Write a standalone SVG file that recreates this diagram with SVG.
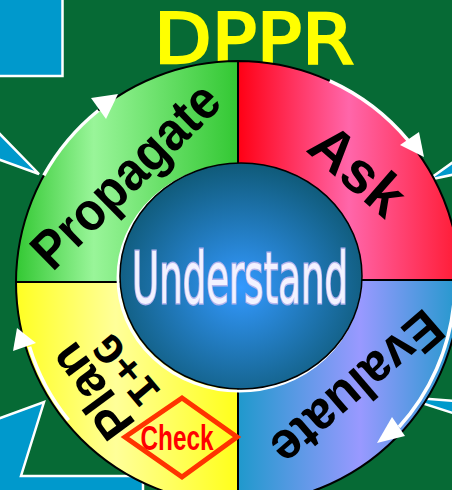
<svg xmlns="http://www.w3.org/2000/svg" width="452" height="490" viewBox="0 0 452 490">
<defs>
<style>
.callout{fill:#0099cc;stroke:#ffffff;stroke-width:2.5;stroke-linejoin:miter}
.quad{stroke:#000;stroke-width:2}
.lbl{font-family:"Liberation Sans",Arial,sans-serif;font-weight:bold;fill:#000;text-anchor:middle}
.arc{fill:none;stroke:#fff;stroke-width:3.5}
.head{fill:#fff}
</style>
<linearGradient id="gG" gradientUnits="userSpaceOnUse" x1="16" y1="0" x2="238" y2="0">
<stop offset="0" stop-color="#33c833"/><stop offset="0.35" stop-color="#99f599"/><stop offset="1" stop-color="#33c833"/>
</linearGradient>
<linearGradient id="gR" gradientUnits="userSpaceOnUse" x1="238" y1="0" x2="460" y2="0">
<stop offset="0" stop-color="#ff0014"/><stop offset="0.5" stop-color="#ff66aa"/><stop offset="1" stop-color="#ff1a33"/>
</linearGradient>
<linearGradient id="gY" gradientUnits="userSpaceOnUse" x1="16" y1="0" x2="238" y2="0">
<stop offset="0" stop-color="#ffff22"/><stop offset="0.45" stop-color="#ffff99"/><stop offset="1" stop-color="#ffff1a"/>
</linearGradient>
<linearGradient id="gB" gradientUnits="userSpaceOnUse" x1="238" y1="0" x2="460" y2="0">
<stop offset="0" stop-color="#1f99cc"/><stop offset="0.55" stop-color="#9999ff"/><stop offset="1" stop-color="#2299cc"/>
</linearGradient>
<radialGradient id="gC" cx="0.5" cy="0.55" r="0.55">
<stop offset="0" stop-color="#3399ff"/><stop offset="1" stop-color="#0f5a78"/>
</radialGradient>
</defs>
<rect x="0" y="0" width="452" height="490" fill="#066a35"/>
<g id="callouts">
<rect class="callout" x="-4" y="-4" width="66.5" height="80"/>
<polygon class="callout" points="-5,129 39,174 -5,158"/>
<polygon class="callout" points="428,180 456,160 456,174"/>
<polygon class="callout" points="403,397 456,401 456,414"/>
<polygon class="callout" points="-5,420 44,402 21,476 143,476 143,496 -5,496"/>
</g>
<g id="title"><text x="254" y="63" font-family="'DejaVu Sans',Verdana,sans-serif" font-size="70" fill="#ffff00" stroke="#ffff00" stroke-width="2.5" text-anchor="middle" textLength="200" lengthAdjust="spacingAndGlyphs">DPPR</text></g>
<g id="propagate">
<path class="quad" fill="url(#gG)" d="M16,282 A222,222 0 0 1 238,61 L238,182 A100,100 0 0 0 138,282 Z"/>
<text class="lbl" font-size="54" transform="translate(125,175) rotate(-44.4)" y="19" textLength="240" lengthAdjust="spacingAndGlyphs">Propagate</text>
</g>
<g id="ask">
<path class="quad" fill="url(#gR)" d="M238,61 A222,222 0 0 1 460,280 L338,280 A100,100 0 0 0 238,182 Z"/>
<text class="lbl" font-size="58" transform="translate(358,170) rotate(41)" y="20">Ask</text>
</g>
<g id="evaluate">
<path class="quad" fill="url(#gB)" d="M460,280 A222,222 0 0 1 238,504 L238,382 A100,100 0 0 0 338,280 Z"/>
<text class="lbl" font-size="53" transform="translate(358,389) rotate(139.3)" y="19" textLength="208" lengthAdjust="spacingAndGlyphs">Evaluate</text>
</g>
<g id="plan">
<path class="quad" fill="url(#gY)" d="M238,504 A222,222 0 0 1 16,282 L138,282 A100,100 0 0 0 238,382 Z"/>
<text class="lbl" font-size="50" transform="translate(91,392) rotate(233.6)" y="18">Plan</text>
<text font-family="'DejaVu Sans Mono',monospace" font-weight="bold" font-size="38" text-anchor="middle" transform="translate(127,370) rotate(230)" y="13" textLength="80" lengthAdjust="spacingAndGlyphs">I+G</text>
</g>
<g id="check">
<polygon points="125,437 182,398 237,437 182,477" fill="none" stroke="#ff3300" stroke-width="5"/>
<text x="177" y="450" font-family="'Liberation Sans',Arial,sans-serif" font-weight="bold" font-size="35" fill="#ff0000" text-anchor="middle" textLength="73" lengthAdjust="spacingAndGlyphs">Check</text>
</g>
<g id="understand">
<ellipse cx="239" cy="278" rx="121" ry="113" fill="none" stroke="#ffffff" stroke-width="3"/>
<ellipse cx="241" cy="276" rx="121" ry="113" fill="url(#gC)" stroke="#000" stroke-width="1.5"/>
<text x="240" y="303" font-family="'DejaVu Sans',sans-serif" font-size="72" fill="#f2f2ff" stroke="#b4b4ec" stroke-width="3" paint-order="stroke" text-anchor="middle" textLength="216" lengthAdjust="spacingAndGlyphs">Understand</text>
</g>
<g id="connectors">
<path class="arc" d="M43.8,175.4 A222,222 0 0 1 98.3,110.5"/>
<polygon class="head" points="91,98 118,94 106,119"/>
<path class="arc" d="M329.7,80.8 A222,222 0 0 1 408.1,140.3"/>
<polygon class="head" points="400,145 419,132 424,157"/>
<path class="arc" d="M454,302 A217,217 0 0 1 399,427"/>
<polygon class="head" points="392,417 405,436 377,443"/>
<path class="arc" d="M68.6,420.2 A218,218 0 0 1 29.5,346.7"/>
<polygon class="head" points="36,343 13,351 17,328"/>
</g>
</svg>
